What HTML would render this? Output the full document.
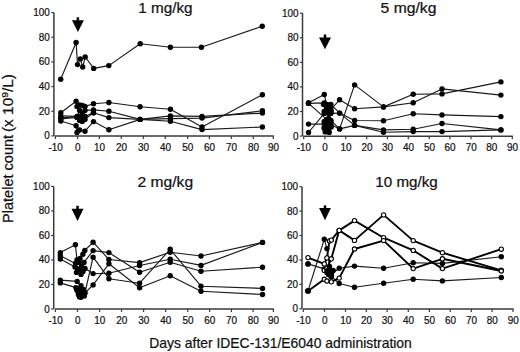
<!DOCTYPE html><html><head><meta charset="utf-8"><style>html,body{margin:0;padding:0;background:#fff;}body{width:520px;height:352px;overflow:hidden;}svg{display:block;font-family:"Liberation Sans", sans-serif;}text{fill:#111;stroke:#111;stroke-width:0.22px;}</style></head><body>
<svg width="520" height="352" viewBox="0 0 520 352">
<rect width="520" height="352" fill="#fff"/>
<path d="M53.90 12.60V135.90" stroke="#3a3a3a" stroke-width="1.5" fill="none"/>
<path d="M51.30 135.90H53.90" stroke="#3a3a3a" stroke-width="1.2"/>
<text x="0" y="0" font-size="10.6" text-anchor="end" transform="translate(49.90,139.40) scale(0.94,1)" >0</text>
<path d="M51.30 111.24H53.90" stroke="#3a3a3a" stroke-width="1.2"/>
<text x="0" y="0" font-size="10.6" text-anchor="end" transform="translate(49.90,114.74) scale(0.94,1)" >20</text>
<path d="M51.30 86.58H53.90" stroke="#3a3a3a" stroke-width="1.2"/>
<text x="0" y="0" font-size="10.6" text-anchor="end" transform="translate(49.90,90.08) scale(0.94,1)" >40</text>
<path d="M51.30 61.92H53.90" stroke="#3a3a3a" stroke-width="1.2"/>
<text x="0" y="0" font-size="10.6" text-anchor="end" transform="translate(49.90,65.42) scale(0.94,1)" >60</text>
<path d="M51.30 37.26H53.90" stroke="#3a3a3a" stroke-width="1.2"/>
<text x="0" y="0" font-size="10.6" text-anchor="end" transform="translate(49.90,40.76) scale(0.94,1)" >80</text>
<path d="M51.30 12.60H53.90" stroke="#3a3a3a" stroke-width="1.2"/>
<text x="0" y="0" font-size="10.6" text-anchor="end" transform="translate(49.90,16.10) scale(0.94,1)" >100</text>
<path d="M54.90 136.00H273.80" stroke="#3a3a3a" stroke-width="1.5"/>
<path d="M55.40 136.00V139.00" stroke="#3a3a3a" stroke-width="1.2"/>
<text x="0" y="0" font-size="10.6" text-anchor="middle" transform="translate(55.60,151.20) scale(0.94,1)" >-10</text>
<path d="M77.50 136.00V139.00" stroke="#3a3a3a" stroke-width="1.2"/>
<text x="0" y="0" font-size="10.6" text-anchor="middle" transform="translate(77.70,151.20) scale(0.94,1)" >0</text>
<path d="M99.40 136.00V139.00" stroke="#3a3a3a" stroke-width="1.2"/>
<text x="0" y="0" font-size="10.6" text-anchor="middle" transform="translate(99.60,151.20) scale(0.94,1)" >10</text>
<path d="M121.30 136.00V139.00" stroke="#3a3a3a" stroke-width="1.2"/>
<text x="0" y="0" font-size="10.6" text-anchor="middle" transform="translate(121.50,151.20) scale(0.94,1)" >20</text>
<path d="M143.30 136.00V139.00" stroke="#3a3a3a" stroke-width="1.2"/>
<text x="0" y="0" font-size="10.6" text-anchor="middle" transform="translate(143.50,151.20) scale(0.94,1)" >30</text>
<path d="M165.30 136.00V139.00" stroke="#3a3a3a" stroke-width="1.2"/>
<text x="0" y="0" font-size="10.6" text-anchor="middle" transform="translate(165.50,151.20) scale(0.94,1)" >40</text>
<path d="M187.60 136.00V139.00" stroke="#3a3a3a" stroke-width="1.2"/>
<text x="0" y="0" font-size="10.6" text-anchor="middle" transform="translate(187.80,151.20) scale(0.94,1)" >50</text>
<path d="M209.40 136.00V139.00" stroke="#3a3a3a" stroke-width="1.2"/>
<text x="0" y="0" font-size="10.6" text-anchor="middle" transform="translate(209.60,151.20) scale(0.94,1)" >60</text>
<path d="M231.30 136.00V139.00" stroke="#3a3a3a" stroke-width="1.2"/>
<text x="0" y="0" font-size="10.6" text-anchor="middle" transform="translate(231.50,151.20) scale(0.94,1)" >70</text>
<path d="M253.30 136.00V139.00" stroke="#3a3a3a" stroke-width="1.2"/>
<text x="0" y="0" font-size="10.6" text-anchor="middle" transform="translate(253.50,151.20) scale(0.94,1)" >80</text>
<path d="M273.30 136.00V139.00" stroke="#3a3a3a" stroke-width="1.2"/>
<text x="0" y="0" font-size="10.6" text-anchor="middle" transform="translate(273.50,151.20) scale(0.94,1)" >90</text>
<path d="M302.50 13.20V136.10" stroke="#3a3a3a" stroke-width="1.5" fill="none"/>
<path d="M299.90 136.10H302.50" stroke="#3a3a3a" stroke-width="1.2"/>
<text x="0" y="0" font-size="10.6" text-anchor="end" transform="translate(298.50,139.60) scale(0.94,1)" >0</text>
<path d="M299.90 111.52H302.50" stroke="#3a3a3a" stroke-width="1.2"/>
<text x="0" y="0" font-size="10.6" text-anchor="end" transform="translate(298.50,115.02) scale(0.94,1)" >20</text>
<path d="M299.90 86.94H302.50" stroke="#3a3a3a" stroke-width="1.2"/>
<text x="0" y="0" font-size="10.6" text-anchor="end" transform="translate(298.50,90.44) scale(0.94,1)" >40</text>
<path d="M299.90 62.36H302.50" stroke="#3a3a3a" stroke-width="1.2"/>
<text x="0" y="0" font-size="10.6" text-anchor="end" transform="translate(298.50,65.86) scale(0.94,1)" >60</text>
<path d="M299.90 37.78H302.50" stroke="#3a3a3a" stroke-width="1.2"/>
<text x="0" y="0" font-size="10.6" text-anchor="end" transform="translate(298.50,41.28) scale(0.94,1)" >80</text>
<path d="M299.90 13.20H302.50" stroke="#3a3a3a" stroke-width="1.2"/>
<text x="0" y="0" font-size="10.6" text-anchor="end" transform="translate(298.50,16.70) scale(0.94,1)" >100</text>
<path d="M303.20 136.20H512.80" stroke="#3a3a3a" stroke-width="1.5"/>
<path d="M303.70 136.20V139.20" stroke="#3a3a3a" stroke-width="1.2"/>
<text x="0" y="0" font-size="10.6" text-anchor="middle" transform="translate(303.90,151.20) scale(0.94,1)" >-10</text>
<path d="M324.90 136.20V139.20" stroke="#3a3a3a" stroke-width="1.2"/>
<text x="0" y="0" font-size="10.6" text-anchor="middle" transform="translate(325.10,151.20) scale(0.94,1)" >0</text>
<path d="M345.70 136.20V139.20" stroke="#3a3a3a" stroke-width="1.2"/>
<text x="0" y="0" font-size="10.6" text-anchor="middle" transform="translate(345.90,151.20) scale(0.94,1)" >10</text>
<path d="M366.70 136.20V139.20" stroke="#3a3a3a" stroke-width="1.2"/>
<text x="0" y="0" font-size="10.6" text-anchor="middle" transform="translate(366.90,151.20) scale(0.94,1)" >20</text>
<path d="M387.40 136.20V139.20" stroke="#3a3a3a" stroke-width="1.2"/>
<text x="0" y="0" font-size="10.6" text-anchor="middle" transform="translate(387.60,151.20) scale(0.94,1)" >30</text>
<path d="M408.30 136.20V139.20" stroke="#3a3a3a" stroke-width="1.2"/>
<text x="0" y="0" font-size="10.6" text-anchor="middle" transform="translate(408.50,151.20) scale(0.94,1)" >40</text>
<path d="M429.20 136.20V139.20" stroke="#3a3a3a" stroke-width="1.2"/>
<text x="0" y="0" font-size="10.6" text-anchor="middle" transform="translate(429.40,151.20) scale(0.94,1)" >50</text>
<path d="M449.90 136.20V139.20" stroke="#3a3a3a" stroke-width="1.2"/>
<text x="0" y="0" font-size="10.6" text-anchor="middle" transform="translate(450.10,151.20) scale(0.94,1)" >60</text>
<path d="M471.00 136.20V139.20" stroke="#3a3a3a" stroke-width="1.2"/>
<text x="0" y="0" font-size="10.6" text-anchor="middle" transform="translate(471.20,151.20) scale(0.94,1)" >70</text>
<path d="M491.60 136.20V139.20" stroke="#3a3a3a" stroke-width="1.2"/>
<text x="0" y="0" font-size="10.6" text-anchor="middle" transform="translate(491.80,151.20) scale(0.94,1)" >80</text>
<path d="M512.30 136.20V139.20" stroke="#3a3a3a" stroke-width="1.2"/>
<text x="0" y="0" font-size="10.6" text-anchor="middle" transform="translate(512.50,151.20) scale(0.94,1)" >90</text>
<path d="M53.70 186.40V309.00" stroke="#3a3a3a" stroke-width="1.5" fill="none"/>
<path d="M51.10 309.00H53.70" stroke="#3a3a3a" stroke-width="1.2"/>
<text x="0" y="0" font-size="10.6" text-anchor="end" transform="translate(49.70,312.50) scale(0.94,1)" >0</text>
<path d="M51.10 284.48H53.70" stroke="#3a3a3a" stroke-width="1.2"/>
<text x="0" y="0" font-size="10.6" text-anchor="end" transform="translate(49.70,287.98) scale(0.94,1)" >20</text>
<path d="M51.10 259.96H53.70" stroke="#3a3a3a" stroke-width="1.2"/>
<text x="0" y="0" font-size="10.6" text-anchor="end" transform="translate(49.70,263.46) scale(0.94,1)" >40</text>
<path d="M51.10 235.44H53.70" stroke="#3a3a3a" stroke-width="1.2"/>
<text x="0" y="0" font-size="10.6" text-anchor="end" transform="translate(49.70,238.94) scale(0.94,1)" >60</text>
<path d="M51.10 210.92H53.70" stroke="#3a3a3a" stroke-width="1.2"/>
<text x="0" y="0" font-size="10.6" text-anchor="end" transform="translate(49.70,214.42) scale(0.94,1)" >80</text>
<path d="M51.10 186.40H53.70" stroke="#3a3a3a" stroke-width="1.2"/>
<text x="0" y="0" font-size="10.6" text-anchor="end" transform="translate(49.70,189.90) scale(0.94,1)" >100</text>
<path d="M54.90 308.90H273.90" stroke="#3a3a3a" stroke-width="1.5"/>
<path d="M55.40 308.90V311.90" stroke="#3a3a3a" stroke-width="1.2"/>
<text x="0" y="0" font-size="10.6" text-anchor="middle" transform="translate(55.60,323.60) scale(0.94,1)" >-10</text>
<path d="M77.50 308.90V311.90" stroke="#3a3a3a" stroke-width="1.2"/>
<text x="0" y="0" font-size="10.6" text-anchor="middle" transform="translate(77.70,323.60) scale(0.94,1)" >0</text>
<path d="M99.60 308.90V311.90" stroke="#3a3a3a" stroke-width="1.2"/>
<text x="0" y="0" font-size="10.6" text-anchor="middle" transform="translate(99.80,323.60) scale(0.94,1)" >10</text>
<path d="M121.50 308.90V311.90" stroke="#3a3a3a" stroke-width="1.2"/>
<text x="0" y="0" font-size="10.6" text-anchor="middle" transform="translate(121.70,323.60) scale(0.94,1)" >20</text>
<path d="M143.60 308.90V311.90" stroke="#3a3a3a" stroke-width="1.2"/>
<text x="0" y="0" font-size="10.6" text-anchor="middle" transform="translate(143.80,323.60) scale(0.94,1)" >30</text>
<path d="M165.60 308.90V311.90" stroke="#3a3a3a" stroke-width="1.2"/>
<text x="0" y="0" font-size="10.6" text-anchor="middle" transform="translate(165.80,323.60) scale(0.94,1)" >40</text>
<path d="M187.70 308.90V311.90" stroke="#3a3a3a" stroke-width="1.2"/>
<text x="0" y="0" font-size="10.6" text-anchor="middle" transform="translate(187.90,323.60) scale(0.94,1)" >50</text>
<path d="M209.60 308.90V311.90" stroke="#3a3a3a" stroke-width="1.2"/>
<text x="0" y="0" font-size="10.6" text-anchor="middle" transform="translate(209.80,323.60) scale(0.94,1)" >60</text>
<path d="M231.40 308.90V311.90" stroke="#3a3a3a" stroke-width="1.2"/>
<text x="0" y="0" font-size="10.6" text-anchor="middle" transform="translate(231.60,323.60) scale(0.94,1)" >70</text>
<path d="M253.10 308.90V311.90" stroke="#3a3a3a" stroke-width="1.2"/>
<text x="0" y="0" font-size="10.6" text-anchor="middle" transform="translate(253.30,323.60) scale(0.94,1)" >80</text>
<path d="M273.40 308.90V311.90" stroke="#3a3a3a" stroke-width="1.2"/>
<text x="0" y="0" font-size="10.6" text-anchor="middle" transform="translate(273.60,323.60) scale(0.94,1)" >90</text>
<path d="M302.00 186.70V308.80" stroke="#3a3a3a" stroke-width="1.5" fill="none"/>
<path d="M299.40 308.80H302.00" stroke="#3a3a3a" stroke-width="1.2"/>
<text x="0" y="0" font-size="10.6" text-anchor="end" transform="translate(298.00,312.30) scale(0.94,1)" >0</text>
<path d="M299.40 284.38H302.00" stroke="#3a3a3a" stroke-width="1.2"/>
<text x="0" y="0" font-size="10.6" text-anchor="end" transform="translate(298.00,287.88) scale(0.94,1)" >20</text>
<path d="M299.40 259.96H302.00" stroke="#3a3a3a" stroke-width="1.2"/>
<text x="0" y="0" font-size="10.6" text-anchor="end" transform="translate(298.00,263.46) scale(0.94,1)" >40</text>
<path d="M299.40 235.54H302.00" stroke="#3a3a3a" stroke-width="1.2"/>
<text x="0" y="0" font-size="10.6" text-anchor="end" transform="translate(298.00,239.04) scale(0.94,1)" >60</text>
<path d="M299.40 211.12H302.00" stroke="#3a3a3a" stroke-width="1.2"/>
<text x="0" y="0" font-size="10.6" text-anchor="end" transform="translate(298.00,214.62) scale(0.94,1)" >80</text>
<path d="M299.40 186.70H302.00" stroke="#3a3a3a" stroke-width="1.2"/>
<text x="0" y="0" font-size="10.6" text-anchor="end" transform="translate(298.00,190.20) scale(0.94,1)" >100</text>
<path d="M302.80 308.90H513.50" stroke="#3a3a3a" stroke-width="1.5"/>
<path d="M303.30 308.90V311.90" stroke="#3a3a3a" stroke-width="1.2"/>
<text x="0" y="0" font-size="10.6" text-anchor="middle" transform="translate(303.50,323.60) scale(0.94,1)" >-10</text>
<path d="M324.50 308.90V311.90" stroke="#3a3a3a" stroke-width="1.2"/>
<text x="0" y="0" font-size="10.6" text-anchor="middle" transform="translate(324.70,323.60) scale(0.94,1)" >0</text>
<path d="M345.50 308.90V311.90" stroke="#3a3a3a" stroke-width="1.2"/>
<text x="0" y="0" font-size="10.6" text-anchor="middle" transform="translate(345.70,323.60) scale(0.94,1)" >10</text>
<path d="M366.30 308.90V311.90" stroke="#3a3a3a" stroke-width="1.2"/>
<text x="0" y="0" font-size="10.6" text-anchor="middle" transform="translate(366.50,323.60) scale(0.94,1)" >20</text>
<path d="M387.10 308.90V311.90" stroke="#3a3a3a" stroke-width="1.2"/>
<text x="0" y="0" font-size="10.6" text-anchor="middle" transform="translate(387.30,323.60) scale(0.94,1)" >30</text>
<path d="M408.30 308.90V311.90" stroke="#3a3a3a" stroke-width="1.2"/>
<text x="0" y="0" font-size="10.6" text-anchor="middle" transform="translate(408.50,323.60) scale(0.94,1)" >40</text>
<path d="M429.40 308.90V311.90" stroke="#3a3a3a" stroke-width="1.2"/>
<text x="0" y="0" font-size="10.6" text-anchor="middle" transform="translate(429.60,323.60) scale(0.94,1)" >50</text>
<path d="M450.20 308.90V311.90" stroke="#3a3a3a" stroke-width="1.2"/>
<text x="0" y="0" font-size="10.6" text-anchor="middle" transform="translate(450.40,323.60) scale(0.94,1)" >60</text>
<path d="M471.30 308.90V311.90" stroke="#3a3a3a" stroke-width="1.2"/>
<text x="0" y="0" font-size="10.6" text-anchor="middle" transform="translate(471.50,323.60) scale(0.94,1)" >70</text>
<path d="M492.10 308.90V311.90" stroke="#3a3a3a" stroke-width="1.2"/>
<text x="0" y="0" font-size="10.6" text-anchor="middle" transform="translate(492.30,323.60) scale(0.94,1)" >80</text>
<path d="M513.00 308.90V311.90" stroke="#3a3a3a" stroke-width="1.2"/>
<text x="0" y="0" font-size="10.6" text-anchor="middle" transform="translate(513.20,323.60) scale(0.94,1)" >90</text>
<text x="138.30" y="13.20" font-size="14.4" text-anchor="start" textLength="54.3" lengthAdjust="spacingAndGlyphs">1 mg/kg</text>
<text x="380.60" y="13.20" font-size="14.4" text-anchor="start" textLength="55.8" lengthAdjust="spacingAndGlyphs">5 mg/kg</text>
<text x="137.50" y="186.90" font-size="14.4" text-anchor="start" textLength="55.6" lengthAdjust="spacingAndGlyphs">2 mg/kg</text>
<text x="375.30" y="186.90" font-size="14.4" text-anchor="start" textLength="62.4" lengthAdjust="spacingAndGlyphs">10 mg/kg</text>
<text x="149.30" y="347.80" font-size="13.9" text-anchor="start" textLength="262.5" lengthAdjust="spacingAndGlyphs">Days after IDEC-131/E6040 administration</text>
<text x="0" y="0" font-size="14" transform="translate(12.8,222.9) rotate(-90)" textLength="88.0" lengthAdjust="spacingAndGlyphs">Platelet count</text>
<text x="0" y="0" font-size="14" transform="translate(12.8,132.0) rotate(-90)" textLength="58.0" lengthAdjust="spacingAndGlyphs">(x 10<tspan dy="-5" font-size="9.5">9</tspan><tspan dy="5">/L)</tspan></text>
<rect x="76.65" y="17.30" width="2.5" height="3.40" fill="#000"/>
<path d="M71.90 20.20L83.90 20.20L77.90 31.90Z" fill="#000"/>
<rect x="323.75" y="34.50" width="2.5" height="3.60" fill="#000"/>
<path d="M319.00 37.60L331.00 37.60L325.00 49.30Z" fill="#000"/>
<rect x="76.25" y="205.80" width="2.5" height="3.50" fill="#000"/>
<path d="M71.50 208.80L83.50 208.80L77.50 221.10Z" fill="#000"/>
<rect x="323.75" y="205.40" width="2.5" height="3.20" fill="#000"/>
<path d="M319.10 208.10L330.90 208.10L325.00 220.30Z" fill="#000"/>
<path d="M60.7 79.2L76.1 42.5L77.5 64.6L80.3 58.9L82.7 67.0L85.2 57.0L93.7 68.4L108.8 65.6L140.2 43.7L170.4 47.2L201.4 47.2L262.2 26.2" stroke="#1a1a1a" stroke-width="1.15" fill="none" stroke-linejoin="round"/>
<path d="M60.8 112.7L76.1 101.2L77.0 106.4L79.6 104.9L82.3 105.4L85.0 106.4L93.5 103.7L108.9 102.5L140.1 106.8L170.4 109.3L202.0 127.0L262.4 94.7" stroke="#1a1a1a" stroke-width="1.15" fill="none" stroke-linejoin="round"/>
<path d="M60.8 115.9L77.0 116.4L79.6 110.4L82.3 113.4L85.0 110.4L93.5 109.9L108.9 111.2L140.1 119.4L170.4 115.9L202.0 116.4L262.4 113.1" stroke="#1a1a1a" stroke-width="1.15" fill="none" stroke-linejoin="round"/>
<path d="M60.8 117.8L77.0 116.9L79.6 116.4L82.3 118.4L85.0 116.4L93.5 112.7L108.9 117.6L140.1 119.4L170.4 118.6L202.0 118.1L262.4 110.8" stroke="#1a1a1a" stroke-width="1.15" fill="none" stroke-linejoin="round"/>
<path d="M60.8 121.0L76.1 125.8L77.0 132.4L79.6 130.0L85.0 131.2L93.5 121.6L108.9 129.8L140.1 119.4L170.4 121.2L202.0 129.6L262.4 127.0" stroke="#1a1a1a" stroke-width="1.15" fill="none" stroke-linejoin="round"/>
<path d="M60.8 118.9L77.0 117.4L79.6 120.4L82.3 121.4L85.0 119.4L93.5 112.7" stroke="#1a1a1a" stroke-width="1.15" fill="none" stroke-linejoin="round"/>
<circle cx="60.7" cy="79.2" r="2.70" fill="#000"/>
<circle cx="76.1" cy="42.5" r="2.70" fill="#000"/>
<circle cx="77.5" cy="64.6" r="2.70" fill="#000"/>
<circle cx="80.3" cy="58.9" r="2.70" fill="#000"/>
<circle cx="82.7" cy="67.0" r="2.70" fill="#000"/>
<circle cx="85.2" cy="57.0" r="2.70" fill="#000"/>
<circle cx="93.7" cy="68.4" r="2.70" fill="#000"/>
<circle cx="108.8" cy="65.6" r="2.70" fill="#000"/>
<circle cx="140.2" cy="43.7" r="2.70" fill="#000"/>
<circle cx="170.4" cy="47.2" r="2.70" fill="#000"/>
<circle cx="201.4" cy="47.2" r="2.70" fill="#000"/>
<circle cx="262.2" cy="26.2" r="2.70" fill="#000"/>
<circle cx="60.8" cy="112.7" r="2.70" fill="#000"/>
<circle cx="76.1" cy="101.2" r="2.70" fill="#000"/>
<circle cx="77.0" cy="106.4" r="2.70" fill="#000"/>
<circle cx="79.6" cy="104.9" r="2.70" fill="#000"/>
<circle cx="82.3" cy="105.4" r="2.70" fill="#000"/>
<circle cx="85.0" cy="106.4" r="2.70" fill="#000"/>
<circle cx="93.5" cy="103.7" r="2.70" fill="#000"/>
<circle cx="108.9" cy="102.5" r="2.70" fill="#000"/>
<circle cx="140.1" cy="106.8" r="2.70" fill="#000"/>
<circle cx="170.4" cy="109.3" r="2.70" fill="#000"/>
<circle cx="202.0" cy="127.0" r="2.70" fill="#000"/>
<circle cx="262.4" cy="94.7" r="2.70" fill="#000"/>
<circle cx="60.8" cy="115.9" r="2.70" fill="#000"/>
<circle cx="77.0" cy="116.4" r="2.70" fill="#000"/>
<circle cx="79.6" cy="110.4" r="2.70" fill="#000"/>
<circle cx="82.3" cy="113.4" r="2.70" fill="#000"/>
<circle cx="85.0" cy="110.4" r="2.70" fill="#000"/>
<circle cx="93.5" cy="109.9" r="2.70" fill="#000"/>
<circle cx="108.9" cy="111.2" r="2.70" fill="#000"/>
<circle cx="140.1" cy="119.4" r="2.70" fill="#000"/>
<circle cx="170.4" cy="115.9" r="2.70" fill="#000"/>
<circle cx="202.0" cy="116.4" r="2.70" fill="#000"/>
<circle cx="262.4" cy="113.1" r="2.70" fill="#000"/>
<circle cx="60.8" cy="117.8" r="2.70" fill="#000"/>
<circle cx="77.0" cy="116.9" r="2.70" fill="#000"/>
<circle cx="79.6" cy="116.4" r="2.70" fill="#000"/>
<circle cx="82.3" cy="118.4" r="2.70" fill="#000"/>
<circle cx="85.0" cy="116.4" r="2.70" fill="#000"/>
<circle cx="93.5" cy="112.7" r="2.70" fill="#000"/>
<circle cx="108.9" cy="117.6" r="2.70" fill="#000"/>
<circle cx="140.1" cy="119.4" r="2.70" fill="#000"/>
<circle cx="170.4" cy="118.6" r="2.70" fill="#000"/>
<circle cx="202.0" cy="118.1" r="2.70" fill="#000"/>
<circle cx="262.4" cy="110.8" r="2.70" fill="#000"/>
<circle cx="60.8" cy="121.0" r="2.70" fill="#000"/>
<circle cx="76.1" cy="125.8" r="2.70" fill="#000"/>
<circle cx="77.0" cy="132.4" r="2.70" fill="#000"/>
<circle cx="79.6" cy="130.0" r="2.70" fill="#000"/>
<circle cx="85.0" cy="131.2" r="2.70" fill="#000"/>
<circle cx="93.5" cy="121.6" r="2.70" fill="#000"/>
<circle cx="108.9" cy="129.8" r="2.70" fill="#000"/>
<circle cx="140.1" cy="119.4" r="2.70" fill="#000"/>
<circle cx="170.4" cy="121.2" r="2.70" fill="#000"/>
<circle cx="202.0" cy="129.6" r="2.70" fill="#000"/>
<circle cx="262.4" cy="127.0" r="2.70" fill="#000"/>
<circle cx="60.8" cy="118.9" r="2.70" fill="#000"/>
<circle cx="77.0" cy="117.4" r="2.70" fill="#000"/>
<circle cx="79.6" cy="120.4" r="2.70" fill="#000"/>
<circle cx="82.3" cy="121.4" r="2.70" fill="#000"/>
<circle cx="85.0" cy="119.4" r="2.70" fill="#000"/>
<circle cx="93.5" cy="112.7" r="2.70" fill="#000"/>
<path d="M308.5 102.7L324.3 94.5L326.6 104.4L328.8 106.4L330.9 109.4L339.6 99.8L354.6 108.7L383.5 106.9L413.2 102.7L442.0 88.9L500.9 95.1" stroke="#1a1a1a" stroke-width="1.15" fill="none" stroke-linejoin="round"/>
<path d="M308.5 103.4L324.3 102.9L326.6 108.4L328.8 113.4L330.9 113.4L339.6 113.1L354.6 120.5L383.5 120.7L413.2 113.8L442.0 114.9L500.9 116.6" stroke="#1a1a1a" stroke-width="1.15" fill="none" stroke-linejoin="round"/>
<path d="M308.5 124.1L324.3 124.1L326.6 126.4L328.8 128.4L330.9 124.4L339.6 128.9L354.6 84.9L383.5 106.9L413.2 94.2L442.0 93.9L500.9 81.9" stroke="#1a1a1a" stroke-width="1.15" fill="none" stroke-linejoin="round"/>
<path d="M308.5 132.5L324.3 113.4L326.6 111.4L328.8 118.4L330.9 104.4L339.6 113.1L354.6 125.4L383.5 129.9L413.2 129.2L442.0 123.5L500.9 129.9" stroke="#1a1a1a" stroke-width="1.15" fill="none" stroke-linejoin="round"/>
<path d="M308.5 103.4L326.6 119.4L324.3 128.4L326.6 131.4L328.8 131.4L330.9 120.4L339.6 128.9L354.6 125.4L383.5 132.2L413.2 131.6L442.0 131.6L500.9 129.9" stroke="#1a1a1a" stroke-width="1.15" fill="none" stroke-linejoin="round"/>
<circle cx="308.5" cy="102.7" r="2.70" fill="#000"/>
<circle cx="324.3" cy="94.5" r="2.70" fill="#000"/>
<circle cx="326.6" cy="104.4" r="2.70" fill="#000"/>
<circle cx="328.8" cy="106.4" r="2.70" fill="#000"/>
<circle cx="330.9" cy="109.4" r="2.70" fill="#000"/>
<circle cx="339.6" cy="99.8" r="2.70" fill="#000"/>
<circle cx="354.6" cy="108.7" r="2.70" fill="#000"/>
<circle cx="383.5" cy="106.9" r="2.70" fill="#000"/>
<circle cx="413.2" cy="102.7" r="2.70" fill="#000"/>
<circle cx="442.0" cy="88.9" r="2.70" fill="#000"/>
<circle cx="500.9" cy="95.1" r="2.70" fill="#000"/>
<circle cx="308.5" cy="103.4" r="2.70" fill="#000"/>
<circle cx="324.3" cy="102.9" r="2.70" fill="#000"/>
<circle cx="326.6" cy="108.4" r="2.70" fill="#000"/>
<circle cx="328.8" cy="113.4" r="2.70" fill="#000"/>
<circle cx="330.9" cy="113.4" r="2.70" fill="#000"/>
<circle cx="339.6" cy="113.1" r="2.70" fill="#000"/>
<circle cx="354.6" cy="120.5" r="2.70" fill="#000"/>
<circle cx="383.5" cy="120.7" r="2.70" fill="#000"/>
<circle cx="413.2" cy="113.8" r="2.70" fill="#000"/>
<circle cx="442.0" cy="114.9" r="2.70" fill="#000"/>
<circle cx="500.9" cy="116.6" r="2.70" fill="#000"/>
<circle cx="308.5" cy="124.1" r="2.70" fill="#000"/>
<circle cx="324.3" cy="124.1" r="2.70" fill="#000"/>
<circle cx="326.6" cy="126.4" r="2.70" fill="#000"/>
<circle cx="328.8" cy="128.4" r="2.70" fill="#000"/>
<circle cx="330.9" cy="124.4" r="2.70" fill="#000"/>
<circle cx="339.6" cy="128.9" r="2.70" fill="#000"/>
<circle cx="354.6" cy="84.9" r="2.70" fill="#000"/>
<circle cx="383.5" cy="106.9" r="2.70" fill="#000"/>
<circle cx="413.2" cy="94.2" r="2.70" fill="#000"/>
<circle cx="442.0" cy="93.9" r="2.70" fill="#000"/>
<circle cx="500.9" cy="81.9" r="2.70" fill="#000"/>
<circle cx="308.5" cy="132.5" r="2.70" fill="#000"/>
<circle cx="324.3" cy="113.4" r="2.70" fill="#000"/>
<circle cx="326.6" cy="111.4" r="2.70" fill="#000"/>
<circle cx="328.8" cy="118.4" r="2.70" fill="#000"/>
<circle cx="330.9" cy="104.4" r="2.70" fill="#000"/>
<circle cx="339.6" cy="113.1" r="2.70" fill="#000"/>
<circle cx="354.6" cy="125.4" r="2.70" fill="#000"/>
<circle cx="383.5" cy="129.9" r="2.70" fill="#000"/>
<circle cx="413.2" cy="129.2" r="2.70" fill="#000"/>
<circle cx="442.0" cy="123.5" r="2.70" fill="#000"/>
<circle cx="500.9" cy="129.9" r="2.70" fill="#000"/>
<circle cx="308.5" cy="103.4" r="2.70" fill="#000"/>
<circle cx="326.6" cy="119.4" r="2.70" fill="#000"/>
<circle cx="324.3" cy="128.4" r="2.70" fill="#000"/>
<circle cx="326.6" cy="131.4" r="2.70" fill="#000"/>
<circle cx="328.8" cy="131.4" r="2.70" fill="#000"/>
<circle cx="330.9" cy="120.4" r="2.70" fill="#000"/>
<circle cx="339.6" cy="128.9" r="2.70" fill="#000"/>
<circle cx="354.6" cy="125.4" r="2.70" fill="#000"/>
<circle cx="383.5" cy="132.2" r="2.70" fill="#000"/>
<circle cx="413.2" cy="131.6" r="2.70" fill="#000"/>
<circle cx="442.0" cy="131.6" r="2.70" fill="#000"/>
<circle cx="500.9" cy="129.9" r="2.70" fill="#000"/>
<circle cx="323.5" cy="104.4" r="2.70" fill="#000"/>
<circle cx="326.5" cy="107.9" r="2.70" fill="#000"/>
<circle cx="329.5" cy="104.9" r="2.70" fill="#000"/>
<circle cx="331.2" cy="111.4" r="2.70" fill="#000"/>
<circle cx="324.2" cy="111.4" r="2.70" fill="#000"/>
<circle cx="324.2" cy="121.4" r="2.70" fill="#000"/>
<circle cx="327.2" cy="123.9" r="2.70" fill="#000"/>
<circle cx="330.8" cy="121.4" r="2.70" fill="#000"/>
<circle cx="324.2" cy="127.4" r="2.70" fill="#000"/>
<circle cx="327.8" cy="129.4" r="2.70" fill="#000"/>
<circle cx="331.2" cy="126.9" r="2.70" fill="#000"/>
<circle cx="325.2" cy="131.9" r="2.70" fill="#000"/>
<circle cx="329.2" cy="132.4" r="2.70" fill="#000"/>
<path d="M60.3 252.6L75.4 244.8L77.0 259.9L82.9 254.2L84.8 250.5L93.1 242.2L108.9 259.5L139.6 262.6L170.2 252.2L201.0 256.0L262.5 242.4" stroke="#1a1a1a" stroke-width="1.15" fill="none" stroke-linejoin="round"/>
<path d="M60.3 255.8L75.5 263.4L79.0 262.4L81.5 266.4L84.0 262.4L93.1 250.6L108.9 252.6L139.6 272.2L170.2 262.3L201.0 271.2L262.5 267.2" stroke="#1a1a1a" stroke-width="1.15" fill="none" stroke-linejoin="round"/>
<path d="M60.3 259.0L75.0 266.9L79.0 269.4L83.0 271.4L85.0 268.4L93.1 273.6L108.9 273.3L139.6 265.5L170.2 259.3L201.0 265.4L262.5 242.4" stroke="#1a1a1a" stroke-width="1.15" fill="none" stroke-linejoin="round"/>
<path d="M60.3 280.1L77.2 281.4L81.0 285.8L84.9 293.0L93.1 257.2L108.9 278.7L139.6 283.2L170.2 249.3L201.0 286.2L262.5 288.4" stroke="#1a1a1a" stroke-width="1.15" fill="none" stroke-linejoin="round"/>
<path d="M60.3 282.9L75.9 287.6L78.5 294.8L81.0 297.3L84.9 293.0L93.1 284.9L108.9 263.8L139.6 287.7L170.2 275.8L201.0 291.3L262.5 294.5" stroke="#1a1a1a" stroke-width="1.15" fill="none" stroke-linejoin="round"/>
<circle cx="60.3" cy="252.6" r="2.70" fill="#000"/>
<circle cx="75.4" cy="244.8" r="2.70" fill="#000"/>
<circle cx="77.0" cy="259.9" r="2.70" fill="#000"/>
<circle cx="82.9" cy="254.2" r="2.70" fill="#000"/>
<circle cx="84.8" cy="250.5" r="2.70" fill="#000"/>
<circle cx="93.1" cy="242.2" r="2.70" fill="#000"/>
<circle cx="108.9" cy="259.5" r="2.70" fill="#000"/>
<circle cx="139.6" cy="262.6" r="2.70" fill="#000"/>
<circle cx="170.2" cy="252.2" r="2.70" fill="#000"/>
<circle cx="201.0" cy="256.0" r="2.70" fill="#000"/>
<circle cx="262.5" cy="242.4" r="2.70" fill="#000"/>
<circle cx="60.3" cy="255.8" r="2.70" fill="#000"/>
<circle cx="75.5" cy="263.4" r="2.70" fill="#000"/>
<circle cx="79.0" cy="262.4" r="2.70" fill="#000"/>
<circle cx="81.5" cy="266.4" r="2.70" fill="#000"/>
<circle cx="84.0" cy="262.4" r="2.70" fill="#000"/>
<circle cx="93.1" cy="250.6" r="2.70" fill="#000"/>
<circle cx="108.9" cy="252.6" r="2.70" fill="#000"/>
<circle cx="139.6" cy="272.2" r="2.70" fill="#000"/>
<circle cx="170.2" cy="262.3" r="2.70" fill="#000"/>
<circle cx="201.0" cy="271.2" r="2.70" fill="#000"/>
<circle cx="262.5" cy="267.2" r="2.70" fill="#000"/>
<circle cx="60.3" cy="259.0" r="2.70" fill="#000"/>
<circle cx="75.0" cy="266.9" r="2.70" fill="#000"/>
<circle cx="79.0" cy="269.4" r="2.70" fill="#000"/>
<circle cx="83.0" cy="271.4" r="2.70" fill="#000"/>
<circle cx="85.0" cy="268.4" r="2.70" fill="#000"/>
<circle cx="93.1" cy="273.6" r="2.70" fill="#000"/>
<circle cx="108.9" cy="273.3" r="2.70" fill="#000"/>
<circle cx="139.6" cy="265.5" r="2.70" fill="#000"/>
<circle cx="170.2" cy="259.3" r="2.70" fill="#000"/>
<circle cx="201.0" cy="265.4" r="2.70" fill="#000"/>
<circle cx="262.5" cy="242.4" r="2.70" fill="#000"/>
<circle cx="60.3" cy="280.1" r="2.70" fill="#000"/>
<circle cx="77.2" cy="281.4" r="2.70" fill="#000"/>
<circle cx="81.0" cy="285.8" r="2.70" fill="#000"/>
<circle cx="84.9" cy="293.0" r="2.70" fill="#000"/>
<circle cx="93.1" cy="257.2" r="2.70" fill="#000"/>
<circle cx="108.9" cy="278.7" r="2.70" fill="#000"/>
<circle cx="139.6" cy="283.2" r="2.70" fill="#000"/>
<circle cx="170.2" cy="249.3" r="2.70" fill="#000"/>
<circle cx="201.0" cy="286.2" r="2.70" fill="#000"/>
<circle cx="262.5" cy="288.4" r="2.70" fill="#000"/>
<circle cx="60.3" cy="282.9" r="2.70" fill="#000"/>
<circle cx="75.9" cy="287.6" r="2.70" fill="#000"/>
<circle cx="78.5" cy="294.8" r="2.70" fill="#000"/>
<circle cx="81.0" cy="297.3" r="2.70" fill="#000"/>
<circle cx="84.9" cy="293.0" r="2.70" fill="#000"/>
<circle cx="93.1" cy="284.9" r="2.70" fill="#000"/>
<circle cx="108.9" cy="263.8" r="2.70" fill="#000"/>
<circle cx="139.6" cy="287.7" r="2.70" fill="#000"/>
<circle cx="170.2" cy="275.8" r="2.70" fill="#000"/>
<circle cx="201.0" cy="291.3" r="2.70" fill="#000"/>
<circle cx="262.5" cy="294.5" r="2.70" fill="#000"/>
<circle cx="76.5" cy="272.4" r="2.70" fill="#000"/>
<circle cx="81.0" cy="274.4" r="2.70" fill="#000"/>
<circle cx="77.5" cy="268.9" r="2.70" fill="#000"/>
<circle cx="80.0" cy="258.4" r="2.70" fill="#000"/>
<circle cx="76.8" cy="289.9" r="2.70" fill="#000"/>
<circle cx="80.2" cy="288.4" r="2.70" fill="#000"/>
<circle cx="83.5" cy="289.4" r="2.70" fill="#000"/>
<circle cx="78.2" cy="292.4" r="2.70" fill="#000"/>
<circle cx="82.2" cy="293.4" r="2.70" fill="#000"/>
<circle cx="84.3" cy="295.9" r="2.70" fill="#000"/>
<circle cx="79.5" cy="296.9" r="2.70" fill="#000"/>
<path d="M308.0 263.9L324.3 268.9L326.9 272.4L329.5 270.4L331.3 274.4L339.2 268.2L354.5 266.1L383.6 268.3L413.2 262.7L442.4 263.4L501.3 256.7" stroke="#1a1a1a" stroke-width="1.15" fill="none" stroke-linejoin="round"/>
<path d="M308.0 290.9L324.3 239.2L326.9 248.6L329.5 266.4L331.3 276.4L339.2 283.5L354.5 287.2L383.6 283.3L413.2 279.3L442.4 280.9L501.3 277.5" stroke="#1a1a1a" stroke-width="1.15" fill="none" stroke-linejoin="round"/>
<path d="M308.0 257.6L324.3 263.9L326.9 257.9L329.5 240.9L331.3 240.1L339.2 230.4L354.5 220.6L383.6 237.7L413.2 250.4L442.4 268.6L501.3 249.2" stroke="#000" stroke-width="1.9" fill="none" stroke-linejoin="round"/>
<path d="M324.3 270.4L326.9 268.4L331.3 258.8L339.2 230.4L354.5 240.4L383.6 214.9L413.2 240.6L442.4 252.7L501.3 270.3" stroke="#000" stroke-width="1.9" fill="none" stroke-linejoin="round"/>
<path d="M308.0 290.9L324.3 279.3L326.9 281.0L331.3 281.8L339.2 278.1L354.5 249.0L383.6 240.6L413.2 268.6L442.4 258.8L501.3 271.0" stroke="#000" stroke-width="1.9" fill="none" stroke-linejoin="round"/>
<circle cx="308.0" cy="263.9" r="2.70" fill="#000"/>
<circle cx="324.3" cy="268.9" r="2.70" fill="#000"/>
<circle cx="326.9" cy="272.4" r="2.70" fill="#000"/>
<circle cx="329.5" cy="270.4" r="2.70" fill="#000"/>
<circle cx="331.3" cy="274.4" r="2.70" fill="#000"/>
<circle cx="339.2" cy="268.2" r="2.70" fill="#000"/>
<circle cx="354.5" cy="266.1" r="2.70" fill="#000"/>
<circle cx="383.6" cy="268.3" r="2.70" fill="#000"/>
<circle cx="413.2" cy="262.7" r="2.70" fill="#000"/>
<circle cx="442.4" cy="263.4" r="2.70" fill="#000"/>
<circle cx="501.3" cy="256.7" r="2.70" fill="#000"/>
<circle cx="308.0" cy="290.9" r="2.70" fill="#000"/>
<circle cx="324.3" cy="239.2" r="2.70" fill="#000"/>
<circle cx="326.9" cy="248.6" r="2.70" fill="#000"/>
<circle cx="329.5" cy="266.4" r="2.70" fill="#000"/>
<circle cx="331.3" cy="276.4" r="2.70" fill="#000"/>
<circle cx="339.2" cy="283.5" r="2.70" fill="#000"/>
<circle cx="354.5" cy="287.2" r="2.70" fill="#000"/>
<circle cx="383.6" cy="283.3" r="2.70" fill="#000"/>
<circle cx="413.2" cy="279.3" r="2.70" fill="#000"/>
<circle cx="442.4" cy="280.9" r="2.70" fill="#000"/>
<circle cx="501.3" cy="277.5" r="2.70" fill="#000"/>
<circle cx="308.0" cy="257.6" r="2.15" fill="#fff" stroke="#000" stroke-width="1.1"/>
<circle cx="324.3" cy="263.9" r="2.15" fill="#fff" stroke="#000" stroke-width="1.1"/>
<circle cx="326.9" cy="257.9" r="2.15" fill="#fff" stroke="#000" stroke-width="1.1"/>
<circle cx="329.5" cy="240.9" r="2.15" fill="#fff" stroke="#000" stroke-width="1.1"/>
<circle cx="331.3" cy="240.1" r="2.15" fill="#fff" stroke="#000" stroke-width="1.1"/>
<circle cx="339.2" cy="230.4" r="2.15" fill="#fff" stroke="#000" stroke-width="1.1"/>
<circle cx="354.5" cy="220.6" r="2.15" fill="#fff" stroke="#000" stroke-width="1.1"/>
<circle cx="383.6" cy="237.7" r="2.15" fill="#fff" stroke="#000" stroke-width="1.1"/>
<circle cx="413.2" cy="250.4" r="2.15" fill="#fff" stroke="#000" stroke-width="1.1"/>
<circle cx="442.4" cy="268.6" r="2.15" fill="#fff" stroke="#000" stroke-width="1.1"/>
<circle cx="501.3" cy="249.2" r="2.15" fill="#fff" stroke="#000" stroke-width="1.1"/>
<circle cx="324.3" cy="270.4" r="2.15" fill="#fff" stroke="#000" stroke-width="1.1"/>
<circle cx="326.9" cy="268.4" r="2.15" fill="#fff" stroke="#000" stroke-width="1.1"/>
<circle cx="331.3" cy="258.8" r="2.15" fill="#fff" stroke="#000" stroke-width="1.1"/>
<circle cx="339.2" cy="230.4" r="2.15" fill="#fff" stroke="#000" stroke-width="1.1"/>
<circle cx="354.5" cy="240.4" r="2.15" fill="#fff" stroke="#000" stroke-width="1.1"/>
<circle cx="383.6" cy="214.9" r="2.15" fill="#fff" stroke="#000" stroke-width="1.1"/>
<circle cx="413.2" cy="240.6" r="2.15" fill="#fff" stroke="#000" stroke-width="1.1"/>
<circle cx="442.4" cy="252.7" r="2.15" fill="#fff" stroke="#000" stroke-width="1.1"/>
<circle cx="501.3" cy="270.3" r="2.15" fill="#fff" stroke="#000" stroke-width="1.1"/>
<circle cx="308.0" cy="290.9" r="2.15" fill="#fff" stroke="#000" stroke-width="1.1"/>
<circle cx="324.3" cy="279.3" r="2.15" fill="#fff" stroke="#000" stroke-width="1.1"/>
<circle cx="326.9" cy="281.0" r="2.15" fill="#fff" stroke="#000" stroke-width="1.1"/>
<circle cx="331.3" cy="281.8" r="2.15" fill="#fff" stroke="#000" stroke-width="1.1"/>
<circle cx="339.2" cy="278.1" r="2.15" fill="#fff" stroke="#000" stroke-width="1.1"/>
<circle cx="354.5" cy="249.0" r="2.15" fill="#fff" stroke="#000" stroke-width="1.1"/>
<circle cx="383.6" cy="240.6" r="2.15" fill="#fff" stroke="#000" stroke-width="1.1"/>
<circle cx="413.2" cy="268.6" r="2.15" fill="#fff" stroke="#000" stroke-width="1.1"/>
<circle cx="442.4" cy="258.8" r="2.15" fill="#fff" stroke="#000" stroke-width="1.1"/>
<circle cx="501.3" cy="271.0" r="2.15" fill="#fff" stroke="#000" stroke-width="1.1"/>
<circle cx="308.0" cy="290.9" r="2.70" fill="#000"/>
<circle cx="308.0" cy="263.9" r="2.70" fill="#000"/>
<circle cx="326.9" cy="270.9" r="2.70" fill="#000"/>
<circle cx="329.3" cy="268.4" r="2.70" fill="#000"/>
<circle cx="331.5" cy="272.9" r="2.70" fill="#000"/>
<circle cx="328.5" cy="274.4" r="2.70" fill="#000"/>
<circle cx="331.0" cy="276.4" r="2.70" fill="#000"/>
<circle cx="333.2" cy="270.4" r="2.70" fill="#000"/>
</svg></body></html>
